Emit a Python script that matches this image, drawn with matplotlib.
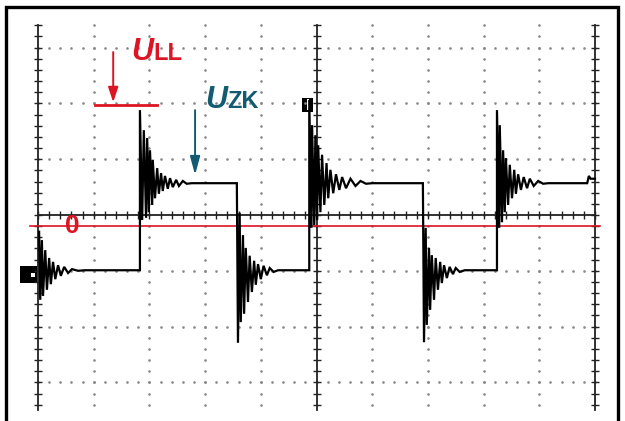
import matplotlib
matplotlib.use('Agg')
from matplotlib import pyplot as plt
from matplotlib.patches import Rectangle
import numpy as np

# scope screen, everything in divisions (x: time div, y: volt div)
low_level = -0.99
high_level = 0.57
zero_ref = -0.20          # red "0" reference line
ul_level = 1.97           # U_LL marker line

# ringing after the trace starts on the left
start_t = [0.02, 0.04, 0.07, 0.09, 0.13, 0.16, 0.20, 0.23, 0.27, 0.31, 0.36,
           0.41, 0.47, 0.54, 0.61, 0.72, 0.84]
start_v = [-0.30, -1.52, -0.45, -1.45, -0.63, -1.34, -0.77, -1.24, -0.84, -1.15,
           -0.90, -1.09, -0.93, -1.04, -0.97, -1.00, -0.99]

# switching edges (time in div) and ringing after each one (offset, value)
edge_t = [1.83, 3.57, 4.87, 6.91, 8.24]
ring_t = [
    [0, 0.04, 0.07, 0.11, 0.13, 0.16, 0.18, 0.22, 0.23, 0.27, 0.31, 0.34, 0.38,
     0.41, 0.45, 0.50, 0.54, 0.59, 0.65, 0.70, 0.77, 0.84, 0.93],
    [0.02, 0.05, 0.07, 0.11, 0.13, 0.16, 0.20, 0.23, 0.27, 0.31, 0.34, 0.38,
     0.43, 0.48, 0.54, 0.59, 0.66, 0.74],
    [0, 0.04, 0.05, 0.09, 0.11, 0.14, 0.16, 0.20, 0.23, 0.27, 0.31, 0.34, 0.38,
     0.43, 0.48, 0.54, 0.59, 0.66, 0.74, 0.83, 0.92, 1.02, 1.13],
    [0.02, 0.05, 0.07, 0.11, 0.13, 0.16, 0.20, 0.23, 0.27, 0.31, 0.34, 0.38,
     0.43, 0.48, 0.54, 0.59, 0.66, 0.75],
    [0, 0.04, 0.05, 0.09, 0.11, 0.14, 0.16, 0.20, 0.23, 0.27, 0.31, 0.34, 0.38,
     0.43, 0.48, 0.54, 0.59, 0.66, 0.74, 0.83, 0.92],
]
ring_v = [
    [1.88, -0.09, 1.52, -0.05, 1.38, 0.05, 1.16, 0.18, 0.99, 0.30, 0.84, 0.38,
     0.75, 0.43, 0.70, 0.47, 0.66, 0.50, 0.63, 0.52, 0.61, 0.56, 0.57],
    [-2.29, 0.04, -1.92, -0.36, -1.77, -0.59, -1.56, -0.73, -1.38, -0.82, -1.25,
     -0.88, -1.15, -0.91, -1.08, -0.95, -1.02, -0.99],
    [2.06, -0.23, 1.61, -0.18, 1.43, -0.09, 1.25, 0.05, 1.08, 0.18, 0.93, 0.30,
     0.81, 0.39, 0.73, 0.45, 0.68, 0.48, 0.65, 0.52, 0.61, 0.56, 0.57],
    [-2.28, -0.23, -1.97, -0.59, -1.70, -0.72, -1.52, -0.77, -1.34, -0.84, -1.22,
     -0.90, -1.13, -0.93, -1.06, -0.95, -1.02, -0.99],
    [1.88, -0.23, 1.61, -0.13, 1.16, 0.05, 1.02, 0.18, 0.90, 0.30, 0.81, 0.38,
     0.73, 0.45, 0.68, 0.48, 0.65, 0.52, 0.61, 0.56, 0.57],
]
tail_t = [9.86, 9.89, 9.92, 10.0]
tail_v = [0.57, 0.70, 0.65, 0.65]

red = '#dc1423'
teal = '#125b70'
px = 55.7  # pixels per division

# build the trace
t = list(start_t)
v = list(start_v)
for et, rt, rv in zip(edge_t, ring_t, ring_v):
    t.append(et)
    v.append(v[-1])
    t += [et + o for o in rt]
    v += rv
t += tail_t
v += tail_v

fig = plt.figure(figsize=(6.25, 4.21), dpi=100)
ax = fig.add_axes([0, 0, 1, 1])
ax.set_xlim(-38 / px, (625 - 38) / px)
ax.set_ylim((215 - 421) / 55.8, 215 / 55.8)
ax.axis('off')

# outer frame
fig.patches.append(Rectangle((6 / 625, -0.01), 612 / 625, 1 - 7 / 421 + 0.01,
                             transform=fig.transFigure, fill=False,
                             edgecolor='black', linewidth=2.4))

# graticule
g_top, g_bot = 3.40, -3.49
dots_x = np.arange(0, 10.01, 0.2)
dots_y = np.arange(-3.4, 3.41, 0.2)
for gx in [1, 2, 3, 4, 6, 7, 8, 9]:
    ax.plot(np.full(len(dots_y), gx), dots_y, ls='none', marker='.',
            ms=1.8, color='#8a8a8a')
for gy in [-3, -2, -1, 1, 2, 3]:
    ax.plot(dots_x, np.full(len(dots_x), gy), ls='none', marker='.',
            ms=1.8, color='#8a8a8a')
ax.plot([0, 10], [0, 0], color='#222222', lw=1.3)
ax.plot(dots_x, np.zeros(len(dots_x)), ls='none', marker='|', ms=6,
        mew=1.0, color='#222222')
for gx in [0, 5, 10]:
    ax.plot([gx, gx], [g_bot, g_top], color='#222222', lw=1.3)
    ax.plot(np.full(len(dots_y), gx), dots_y, ls='none', marker='_', ms=6,
            mew=1.0, color='#222222')

# zero reference
ax.plot([-0.14, 10.09], [zero_ref, zero_ref], color=red, lw=1.2)
ax.text(0.48, -0.33, '0', color=red, fontsize=19, fontweight='bold',
        family='Liberation Sans', ha='left', va='baseline')

# trace
ax.plot(t, v, color='black', lw=1.6, solid_joinstyle='miter')

# channel and trigger markers
ax.add_patch(Rectangle((-0.32, -1.22), 0.30, 0.31, color='black', lw=0))
ax.add_patch(Rectangle((-0.12, -1.12), 0.06, 0.08, color='white', lw=0))
ax.add_patch(Rectangle((4.74, 1.85), 0.20, 0.25, color='black', lw=0))
ax.add_patch(Rectangle((4.83, 1.88), 0.04, 0.19, color='white', lw=0))

# U_LL annotation
ax.plot([1.02, 2.14], [ul_level, ul_level], color=red, lw=2.0)
ax.annotate('', xy=(1.35, 2.02), xytext=(1.35, 2.92),
            arrowprops=dict(arrowstyle='-|>,head_length=0.9,head_width=0.3',
                            color=red, lw=1.4, shrinkA=0, shrinkB=0))
ax.text(1.67, 2.78, 'U', color=red, fontsize=22, fontweight='bold',
        fontstyle='italic', family='Liberation Sans', va='baseline')
ax.text(2.07, 2.78, 'LL', color=red, fontsize=17, fontweight='bold',
        family='Liberation Sans', va='baseline')

# U_ZK annotation
ax.annotate('', xy=(2.82, 0.72), xytext=(2.82, 1.88),
            arrowprops=dict(arrowstyle='-|>,head_length=1.1,head_width=0.3',
                            color=teal, lw=1.4, shrinkA=0, shrinkB=0))
ax.text(3.0, 1.92, 'U', color=teal, fontsize=22, fontweight='bold',
        fontstyle='italic', family='Liberation Sans', va='baseline')
ax.text(3.40, 1.92, 'ZK', color=teal, fontsize=17, fontweight='bold',
        family='Liberation Sans', va='baseline')

plt.savefig('out.png', dpi=100)
